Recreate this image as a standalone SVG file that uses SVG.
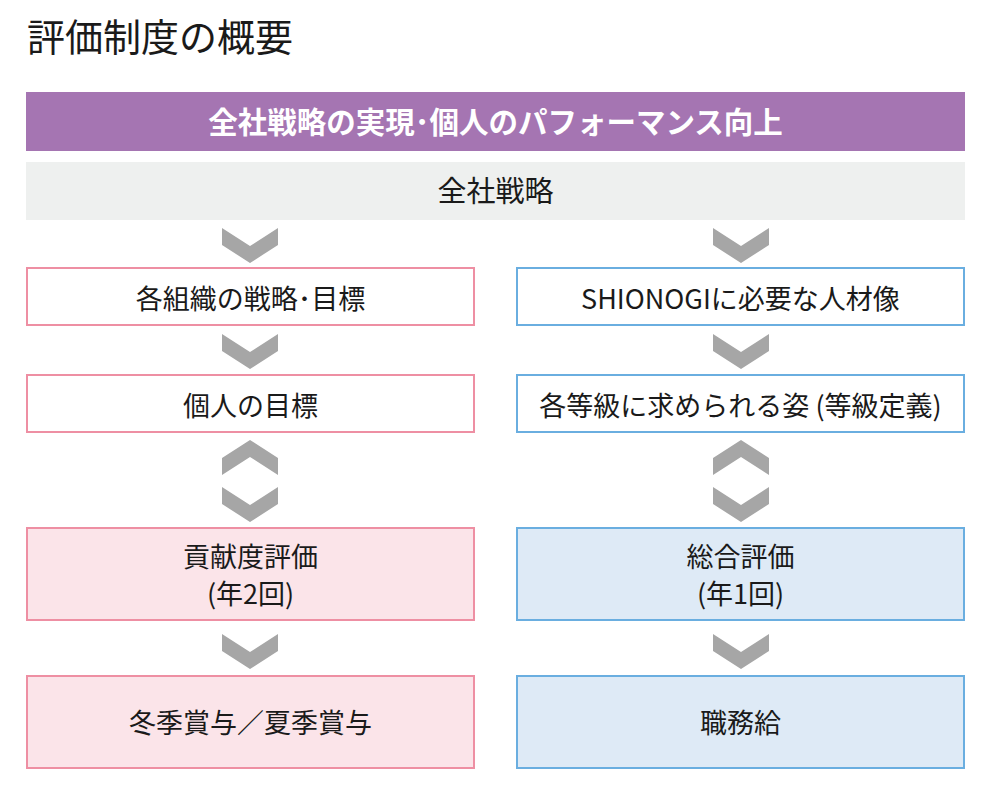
<svg xmlns="http://www.w3.org/2000/svg" width="992" height="803" viewBox="0 0 992 803">
<defs>
<style>
text{font-family:"Noto Sans CJK JP","Noto Sans",sans-serif;text-anchor:middle;fill:#1a1a1a;font-size:27px}
.pk{fill:#ffffff;stroke:#ee8fa3;stroke-width:2}
.pkf{fill:#fbe4e9;stroke:#ee8fa3;stroke-width:2}
.bl{fill:#ffffff;stroke:#6aaee0;stroke-width:2}
.blf{fill:#deeaf6;stroke:#6aaee0;stroke-width:2}
.ch{fill:#a6a6a6}
</style>
<polygon id="dn" points="-28,0 0,18 28,0 28,17 0,35 -28,17"/>
<polygon id="up" points="-28,35 0,17 28,35 28,18 0,0 -28,18"/>
</defs>
<rect width="992" height="803" fill="#ffffff"/>
<text x="27" y="51" style="text-anchor:start;font-size:38px">評価制度の概要</text>
<g id="top-purple">
<rect x="26" y="92" width="939" height="59" fill="#a575b2"/>
<text x="495.5" y="133" style="fill:#ffffff;font-weight:bold;font-size:29.5px">全社戦略の実現･個人のパフォーマンス向上</text>
</g>
<g id="top-gray">
<rect x="26" y="162" width="939" height="58" fill="#eef0ef"/>
<text x="495.5" y="202" style="font-size:29px">全社戦略</text>
</g>
<g id="connectors" class="ch">
<use href="#dn" x="250" y="228"/>
<use href="#dn" x="741" y="228"/>
<use href="#dn" x="250" y="334"/>
<use href="#dn" x="741" y="334"/>
<use href="#up" x="250" y="440"/>
<use href="#up" x="741" y="440"/>
<use href="#dn" x="250" y="487"/>
<use href="#dn" x="741" y="487"/>
<use href="#dn" x="250" y="634"/>
<use href="#dn" x="741" y="634"/>
</g>
<g id="org-strategy">
<rect class="pk" x="27" y="268" width="447" height="57"/>
<text x="250.5" y="309">各組織の戦略･目標</text>
</g>
<g id="personal-goal">
<rect class="pk" x="27" y="375" width="447" height="57"/>
<text x="250.5" y="416">個人の目標</text>
</g>
<g id="contribution-eval">
<rect class="pkf" x="27" y="528" width="447" height="92"/>
<text x="250.5" y="567">貢献度評価</text>
<text x="250.5" y="604">(年2回)</text>
</g>
<g id="bonus">
<rect class="pkf" x="27" y="676" width="447" height="92"/>
<text x="250.5" y="733">冬季賞与／夏季賞与</text>
</g>
<g id="talent">
<rect class="bl" x="517" y="268" width="447" height="57"/>
<text x="740.5" y="309">SHIONOGIに必要な人材像</text>
</g>
<g id="grade-def">
<rect class="bl" x="517" y="375" width="447" height="57"/>
<text x="740.5" y="416">各等級に求められる姿 (等級定義)</text>
</g>
<g id="overall-eval">
<rect class="blf" x="517" y="528" width="447" height="92"/>
<text x="740.5" y="567">総合評価</text>
<text x="740.5" y="604">(年1回)</text>
</g>
<g id="job-pay">
<rect class="blf" x="517" y="676" width="447" height="92"/>
<text x="740.5" y="733">職務給</text>
</g>
</svg>
